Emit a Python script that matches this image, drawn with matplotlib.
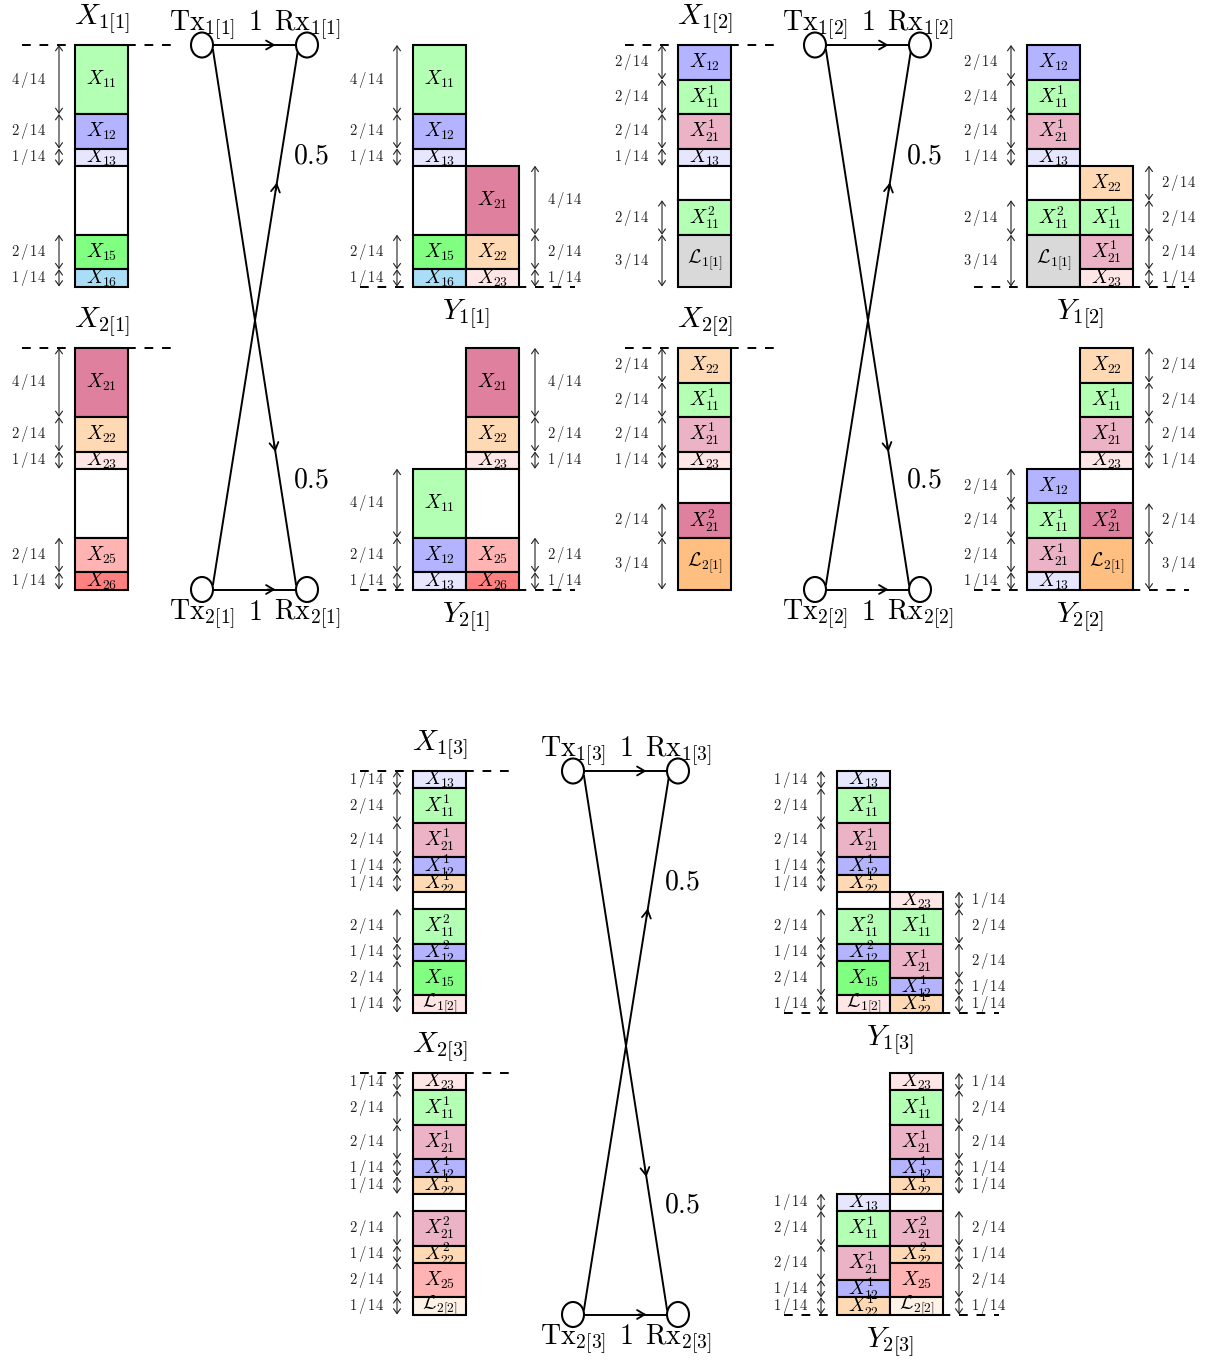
import matplotlib
matplotlib.use('Agg')
from matplotlib import pyplot as plt
from matplotlib.patches import Rectangle, Ellipse, FancyArrowPatch

plt.rcParams['mathtext.fontset'] = 'cm'

# signal levels of each transmitter, top to bottom: (message, height in 1/14)
X1_STAGE1 = [('X_{11}', 4), ('X_{12}', 2), ('X_{13}', 1), ('', 4), ('X_{15}', 2), ('X_{16}', 1)]
X2_STAGE1 = [('X_{21}', 4), ('X_{22}', 2), ('X_{23}', 1), ('', 4), ('X_{25}', 2), ('X_{26}', 1)]

X1_STAGE2 = [('X_{12}', 2), ('X^{1}_{11}', 2), ('X^{1}_{21}', 2), ('X_{13}', 1), ('', 2),
             ('X^{2}_{11}', 2), (r'\mathcal{L}_{1[1]}', 3)]
X2_STAGE2 = [('X_{22}', 2), ('X^{1}_{11}', 2), ('X^{1}_{21}', 2), ('X_{23}', 1), ('', 2),
             ('X^{2}_{21}', 2), (r'\mathcal{L}_{2[1]}', 3)]

X1_STAGE3 = [('X_{13}', 1), ('X^{1}_{11}', 2), ('X^{1}_{21}', 2), ('X^{1}_{12}', 1), ('X^{1}_{22}', 1),
             ('', 1), ('X^{2}_{11}', 2), ('X^{2}_{12}', 1), ('X_{15}', 2), (r'\mathcal{L}_{1[2]}', 1)]
X2_STAGE3 = [('X_{23}', 1), ('X^{1}_{11}', 2), ('X^{1}_{21}', 2), ('X^{1}_{12}', 1), ('X^{1}_{22}', 1),
             ('', 1), ('X^{2}_{21}', 2), ('X^{2}_{22}', 1), ('X_{25}', 2), (r'\mathcal{L}_{2[2]}', 1)]

LEVELS = 14
DIRECT_GAIN = '1'
CROSS_GAIN = 0.5

COLORS = {
    'X_{11}': '#b3ffb3', 'X^{1}_{11}': '#b3ffb3', 'X^{2}_{11}': '#b3ffb3',
    'X_{12}': '#b3b3ff', 'X^{1}_{12}': '#b3b3ff', 'X^{2}_{12}': '#b3b3ff',
    'X_{13}': '#e6e6ff', 'X_{15}': '#80ff80', 'X_{16}': '#a9def6',
    'X_{21}': '#df809f', 'X^{1}_{21}': '#ecb3c6', 'X^{2}_{21}': '#df809f',
    'X_{22}': '#ffd9b3', 'X^{1}_{22}': '#ffd9b3', 'X^{2}_{22}': '#ffd9b3',
    'X_{23}': '#ffe6e6', 'X_{25}': '#ffb3b3', 'X_{26}': '#ff8080',
    r'\mathcal{L}_{1[1]}': '#d9d9d9', r'\mathcal{L}_{2[1]}': '#ffbf80',
    r'\mathcal{L}_{1[2]}': '#ffe6e6', r'\mathcal{L}_{2[2]}': '#fff2e6',
}
COLORS_STAGE3 = dict(COLORS, **{'X^{2}_{21}': '#ecb3c6'})

U = 17.25   # pixels per 1/14 level
W = 53      # column width


def top_part(blocks, gain):
    # what survives the cross link: the upper gain*LEVELS levels
    out, acc = [], 0
    for lbl, h in blocks:
        if acc + h > gain * LEVELS:
            break
        out.append((lbl, h))
        acc += h
    return out


def draw_stack(ax, x, y_bottom, blocks, colors):
    y = y_bottom - sum(h for _, h in blocks) * U
    for lbl, h in blocks:
        rect = Rectangle((x, y), W, h * U, fc=colors.get(lbl, 'white'), ec='black', lw=1.5, zorder=3)
        ax.add_patch(rect)
        if lbl:
            t = ax.text(x + W / 2, y + h * U / 2, '$%s$' % lbl, ha='center', va='center',
                        fontsize=14, zorder=4)
            t.set_clip_path(rect)
        y += h * U


def draw_dims(ax, x_arrow, x_text, y_bottom, blocks):
    y = y_bottom - sum(h for _, h in blocks) * U
    for lbl, h in blocks:
        if lbl:
            ax.add_patch(FancyArrowPatch((x_arrow, y), (x_arrow, y + h * U),
                                         arrowstyle='<->,head_length=0.35,head_width=0.25',
                                         mutation_scale=10, lw=0.8, color='#222222',
                                         shrinkA=0, shrinkB=0, zorder=2))
            ax.text(x_text, y + h * U / 2, r'$%d\,/\,%d$' % (h, LEVELS), ha='center', va='center',
                    fontsize=10.5, color='#222222', zorder=2)
        y += h * U


def mid_arrow(ax, p0, p1, frac):
    px = p0[0] + frac * (p1[0] - p0[0])
    py = p0[1] + frac * (p1[1] - p0[1])
    dx, dy = p1[0] - p0[0], p1[1] - p0[1]
    n = (dx ** 2 + dy ** 2) ** 0.5
    ax.add_patch(FancyArrowPatch((px - 8 * dx / n, py - 8 * dy / n), (px, py),
                                 arrowstyle='->,head_length=0.55,head_width=0.32',
                                 mutation_scale=10, lw=1.3, color='black',
                                 shrinkA=0, shrinkB=0, zorder=2))


def draw_stage(ax, n, x1, x2, xcol, tx, rx, ycol, top1, top2, colors):
    bot1 = top1 + LEVELS * U
    bot2 = top2 + LEVELS * U

    # transmit side
    for i, (blocks, top) in enumerate([(x1, top1), (x2, top2)]):
        ax.plot([xcol - 53, xcol + 100], [top, top], color='black', lw=1.4,
                ls=(0, (4.5, 4.5)), zorder=1)
        draw_stack(ax, xcol, top + LEVELS * U, blocks, colors)
        draw_dims(ax, xcol - 16, xcol - 46, top + LEVELS * U, blocks)
        ax.text(xcol + W / 2, top - 21, '$X_{%d[%d]}$' % (i + 1, n), ha='center',
                va='baseline', fontsize=21)

    # channel
    for y, node, va_y in [(top1, 1, top1 - 15), (bot2, 2, bot2 + 30)]:
        ax.add_patch(Ellipse((tx, y), 22, 25, fc='white', ec='black', lw=1.5, zorder=5))
        ax.add_patch(Ellipse((rx, y), 22, 25, fc='white', ec='black', lw=1.5, zorder=5))
        ax.plot([tx + 11, rx - 11], [y, y], color='black', lw=1.4, zorder=2)
        mid_arrow(ax, (tx, y), (rx, y), 0.7)
        ax.text(tx, va_y, r'$\mathrm{Tx}_{%d[%d]}$' % (node, n), ha='center', va='baseline', fontsize=20)
        ax.text(rx, va_y, r'$\mathrm{Rx}_{%d[%d]}$' % (node, n), ha='center', va='baseline', fontsize=20)
        ax.text((tx + rx) / 2, va_y, '$%s$' % DIRECT_GAIN, ha='center', va='baseline', fontsize=20)

    down = ((tx + 11, top1 + 5), (rx - 11, bot2 - 5))
    up = ((tx + 11, bot2 - 5), (rx - 9, top1 + 5))
    for p0, p1 in (down, up):
        ax.plot([p0[0], p1[0]], [p0[1], p1[1]], color='black', lw=1.4, zorder=2)
    span = bot2 - top1
    mid_arrow(ax, up[0], up[1], 1 - 135 / span)
    mid_arrow(ax, down[0], down[1], 1 - 135 / span)
    ax.text(rx + 4, top1 + 110, '$%s$' % CROSS_GAIN, ha='center', va='center', fontsize=20)
    ax.text(rx + 4, bot2 - 110, '$%s$' % CROSS_GAIN, ha='center', va='center', fontsize=20)

    # receive side: own signal in full, the other one through the weak link
    panels = [(bot1, x1, top_part(x2, CROSS_GAIN)), (bot2, top_part(x1, CROSS_GAIN), x2)]
    for i, (bot, left, right) in enumerate(panels):
        ax.plot([ycol - 53, ycol + 162], [bot, bot], color='black', lw=1.4,
                ls=(0, (4.5, 4.5)), zorder=1)
        draw_stack(ax, ycol, bot, left, colors)
        draw_stack(ax, ycol + W, bot, right, colors)
        draw_dims(ax, ycol - 16, ycol - 46, bot, left)
        draw_dims(ax, ycol + 2 * W + 16, ycol + 2 * W + 46, bot, right)
        ax.text(ycol + W, bot + 33, '$Y_{%d[%d]}$' % (i + 1, n), ha='center',
                va='baseline', fontsize=21)


fig = plt.figure(figsize=(12.07, 13.63), dpi=100)
ax = fig.add_axes([0, 0, 1, 1])
ax.set_xlim(0, 1207)
ax.set_ylim(1363, 0)
ax.axis('off')

draw_stage(ax, 1, X1_STAGE1, X2_STAGE1, 75, 202, 307, 413, 45, 348, COLORS)
draw_stage(ax, 2, X1_STAGE2, X2_STAGE2, 678, 815, 920, 1027, 45, 348, COLORS)
draw_stage(ax, 3, X1_STAGE3, X2_STAGE3, 413, 573, 678, 837, 771, 1073, COLORS_STAGE3)

fig.savefig('out.png', dpi=100)
